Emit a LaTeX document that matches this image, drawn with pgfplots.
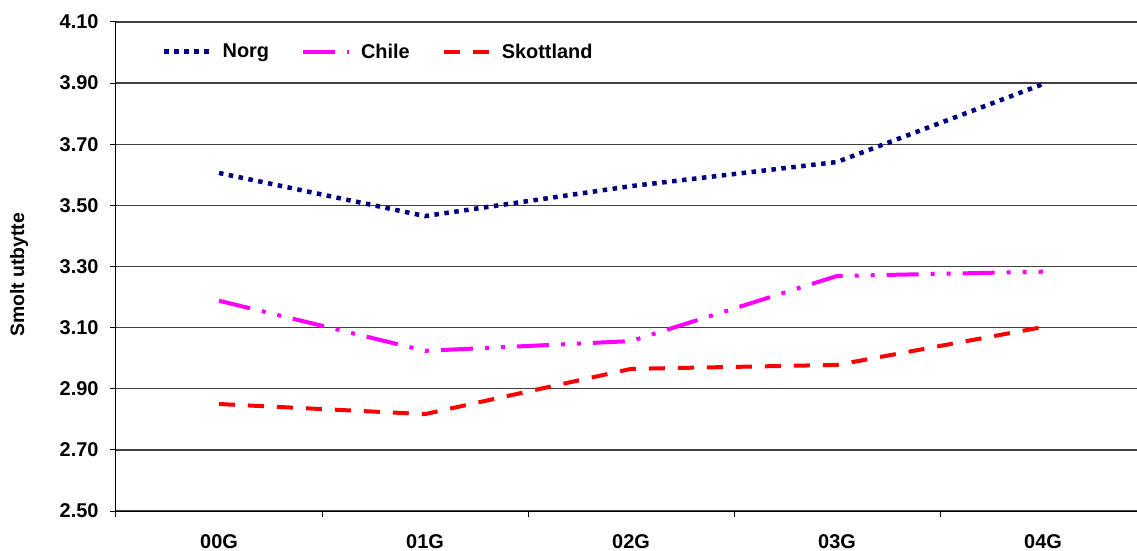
\documentclass[border=0pt]{standalone}
\usepackage{pgfplots}
\pgfplotsset{compat=1.18}
\usepackage{fontspec}
\setmainfont{Liberation Sans}

\definecolor{norg}{RGB}{0,0,128}
\definecolor{chile}{RGB}{255,0,255}
\definecolor{skott}{RGB}{255,0,0}

\begin{document}
\begin{tikzpicture}
	\useasboundingbox (-116bp,-40bp) rectangle (1021bp,511bp);
	\begin{axis}[
	scale only axis,
	width=1021bp, height=489bp,
	at={(0,0)}, anchor=south west,
	xmin=-0.5, xmax=4.456,
	ymin=2.5, ymax=4.1,
	axis x line*=bottom, axis y line*=left,
	axis line style={line width=1bp, -},
	xtick={0,1,2,3,4},
	xticklabels={00G,01G,02G,03G,04G},
	major x tick style={draw=none},
	minor xtick={-0.5,0.5,1.5,2.5,3.5},
	minor tick length=6bp,
	minor x tick style={line width=1bp, black},
	ytick={2.5,2.7,...,4.1},
	major tick length=6bp,
	tick align=outside,
	y tick style={line width=1bp, black},
	/pgf/number format/fixed,
	/pgf/number format/fixed zerofill,
	/pgf/number format/precision=2,
	/pgf/number format/assume math mode=true,
	every tick label/.append style={font=\fontsize{20}{22}\selectfont\bfseries},
	yticklabel style={xshift=-8bp},
	xticklabel style={yshift=-14bp},
	ymajorgrids=true,
	grid style={line width=1.3bp, black!75},
	ylabel={Smolt utbytte},
	ylabel style={font=\fontsize{19.5}{22}\selectfont\bfseries, at={(axis description cs:-0.095,0.483)}, anchor=center},
	legend columns=3,
	legend style={draw=none, fill=none, at={(0.045,0.96)}, anchor=north west,
		font=\fontsize{20}{22}\selectfont\bfseries, inner sep=0pt,
		/tikz/every odd column/.append style={column sep=8bp},
		/tikz/every even column/.append style={column sep=30bp}},
	legend image code/.code={\draw[#1] (0bp,0bp) -- (46bp,0bp);},
	]
	\addplot[norg, line width=4.5bp, dash pattern=on 4.5bp off 5.5bp] coordinates {
		(0,3.606) (1,3.465) (2,3.563) (3,3.642) (4,3.897)
	};
	\addlegendentry{Norg}
	\addplot[chile, line width=4bp, dash pattern=on 32bp off 12bp on 4bp off 12bp on 4bp off 12bp] coordinates {
		(0,3.188) (1,3.024) (2,3.056) (3,3.269) (4,3.283)
	};
	\addlegendentry{Chile}
	\addplot[skott, line width=4bp, dash pattern=on 16bp off 13bp] coordinates {
		(0,2.850) (1,2.817) (2,2.965) (3,2.978) (4,3.102)
	};
	\addlegendentry{Skottland}
	\end{axis}
\end{tikzpicture}
\end{document}
